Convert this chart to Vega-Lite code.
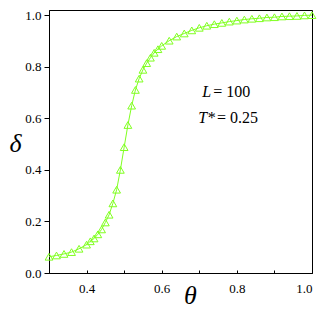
{
  "$schema": "https://vega.github.io/schema/vega-lite/v6.json",
  "width": 263,
  "height": 263,
  "autosize": "none",
  "padding": {"left": 49, "top": 10, "right": 15, "bottom": 42},
  "config": {
    "view": {"stroke": "black", "strokeWidth": 1},
    "font": "Liberation Serif",
    "axis": {
      "grid": false,
      "domainColor": "black",
      "tickColor": "black",
      "labelColor": "black",
      "labelFont": "Liberation Serif",
      "labelFontSize": 13,
      "titleFont": "Liberation Serif",
      "titleFontStyle": "italic",
      "titleFontWeight": "normal",
      "titleFontSize": 26,
      "titleColor": "black"
    }
  },
  "datasets": {
    "curve": [
      {"theta": 0.30, "delta": 0.063},
      {"theta": 0.32, "delta": 0.068},
      {"theta": 0.34, "delta": 0.074},
      {"theta": 0.36, "delta": 0.081},
      {"theta": 0.38, "delta": 0.094},
      {"theta": 0.40, "delta": 0.110},
      {"theta": 0.41, "delta": 0.123},
      {"theta": 0.42, "delta": 0.134},
      {"theta": 0.43, "delta": 0.150},
      {"theta": 0.44, "delta": 0.169},
      {"theta": 0.45, "delta": 0.196},
      {"theta": 0.46, "delta": 0.226},
      {"theta": 0.47, "delta": 0.270},
      {"theta": 0.48, "delta": 0.323},
      {"theta": 0.49, "delta": 0.400},
      {"theta": 0.50, "delta": 0.488},
      {"theta": 0.51, "delta": 0.574},
      {"theta": 0.52, "delta": 0.649},
      {"theta": 0.53, "delta": 0.710},
      {"theta": 0.54, "delta": 0.754},
      {"theta": 0.55, "delta": 0.788},
      {"theta": 0.56, "delta": 0.814},
      {"theta": 0.57, "delta": 0.835},
      {"theta": 0.58, "delta": 0.854},
      {"theta": 0.59, "delta": 0.868},
      {"theta": 0.60, "delta": 0.881},
      {"theta": 0.62, "delta": 0.901},
      {"theta": 0.64, "delta": 0.917},
      {"theta": 0.66, "delta": 0.929},
      {"theta": 0.68, "delta": 0.941},
      {"theta": 0.70, "delta": 0.951},
      {"theta": 0.72, "delta": 0.959},
      {"theta": 0.74, "delta": 0.965},
      {"theta": 0.76, "delta": 0.970},
      {"theta": 0.78, "delta": 0.975},
      {"theta": 0.80, "delta": 0.979},
      {"theta": 0.82, "delta": 0.983},
      {"theta": 0.84, "delta": 0.986},
      {"theta": 0.86, "delta": 0.988},
      {"theta": 0.88, "delta": 0.991},
      {"theta": 0.90, "delta": 0.992},
      {"theta": 0.92, "delta": 0.995},
      {"theta": 0.94, "delta": 0.996},
      {"theta": 0.96, "delta": 0.997},
      {"theta": 0.98, "delta": 0.999},
      {"theta": 1.00, "delta": 1.000}
    ],
    "italicLabels": [
      {"theta": 0.7317, "delta": 0.703, "text": "L"},
      {"theta": 0.7420, "delta": 0.603, "text": "T*"}
    ],
    "plainLabels": [
      {"theta": 0.7317, "delta": 0.703, "text": "= 100"},
      {"theta": 0.7420, "delta": 0.603, "text": "= 0.25"}
    ]
  },
  "layer": [
    {
      "data": {"name": "curve"},
      "mark": {"type": "line", "color": "#80ff20", "strokeWidth": 1, "clip": true},
      "encoding": {
        "x": {
          "field": "theta", "type": "quantitative",
          "scale": {"domain": [0.3, 1.0], "nice": false, "zero": false},
          "axis": {
            "title": "θ",
            "values": [0.4, 0.5, 0.6, 0.7, 0.8, 0.9, 1.0],
            "labelExpr": "(datum.value == 0.5 || datum.value == 0.7 || datum.value == 0.9) ? '' : format(datum.value, '.1f')",
            "tickSize": -3,
            "labelPadding": 12,
            "titleAngle": 0,
            "titleX": 141,
            "titleY": 22,
            "titleAlign": "center",
            "titleBaseline": "middle"
          }
        },
        "y": {
          "field": "delta", "type": "quantitative",
          "scale": {"domain": [0, 1.02], "nice": false},
          "axis": {
            "title": "δ",
            "values": [0, 0.1, 0.2, 0.3, 0.4, 0.5, 0.6, 0.7, 0.8, 0.9, 1.0],
            "labelExpr": "(datum.value == 0.1 || datum.value == 0.3 || datum.value == 0.5 || datum.value == 0.7 || datum.value == 0.9) ? '' : format(datum.value, '.1f')",
            "tickSize": {"condition": {"test": "datum.value == 0.1 || datum.value == 0.3 || datum.value == 0.5 || datum.value == 0.7 || datum.value == 0.9", "value": 3}, "value": 5},
            "labelPadding": 3,
            "titleAngle": 0,
            "titleX": -34,
            "titleY": 133,
            "titleAlign": "center",
            "titleBaseline": "middle"
          }
        }
      }
    },
    {
      "data": {"name": "curve"},
      "mark": {"type": "point", "shape": "triangle-up", "filled": false, "color": "#80ff20", "strokeWidth": 1, "size": 60, "opacity": 1},
      "encoding": {
        "x": {"field": "theta", "type": "quantitative"},
        "y": {"field": "delta", "type": "quantitative"}
      }
    },
    {
      "data": {"name": "italicLabels"},
      "mark": {"type": "text", "font": "Liberation Serif", "fontSize": 16, "fontStyle": "italic", "align": "right", "baseline": "middle", "color": "black"},
      "encoding": {
        "x": {"field": "theta", "type": "quantitative"},
        "y": {"field": "delta", "type": "quantitative"},
        "text": {"field": "text"}
      }
    },
    {
      "data": {"name": "plainLabels"},
      "mark": {"type": "text", "font": "Liberation Serif", "fontSize": 16, "align": "left", "baseline": "middle", "dx": 2, "color": "black"},
      "encoding": {
        "x": {"field": "theta", "type": "quantitative"},
        "y": {"field": "delta", "type": "quantitative"},
        "text": {"field": "text"}
      }
    }
  ]
}
